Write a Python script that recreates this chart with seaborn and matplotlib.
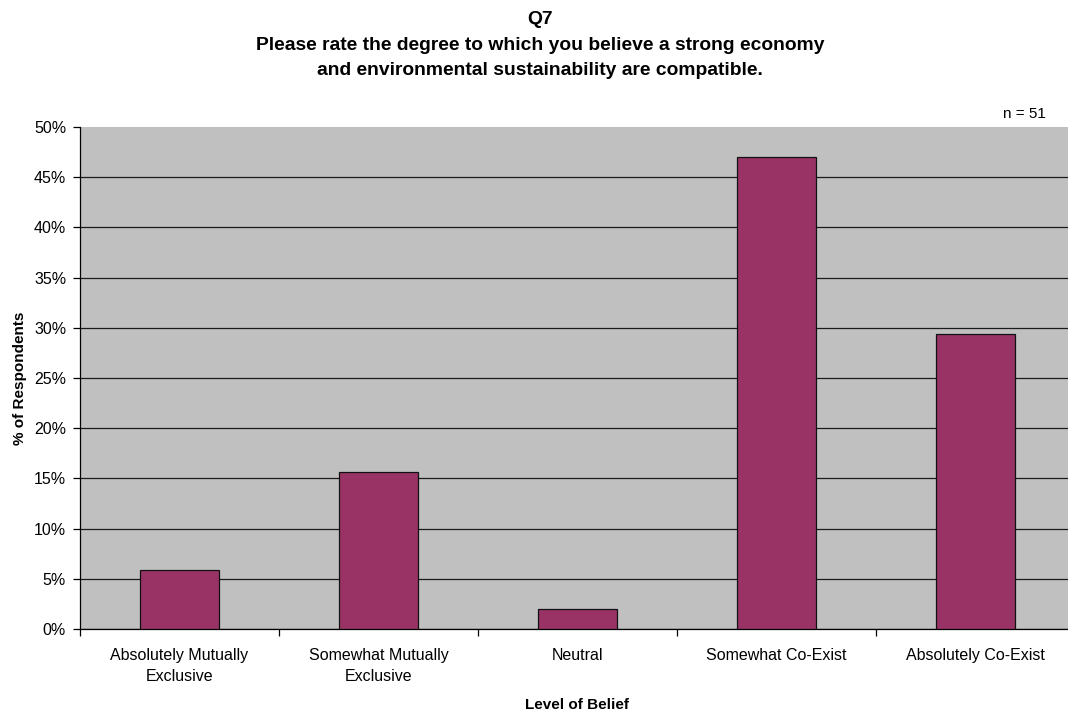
import matplotlib
matplotlib.use("Agg")
import matplotlib.pyplot as plt
import matplotlib.ticker as mticker
import seaborn as sns
import pandas as pd
import numpy as np

categories = ["Absolutely Mutually\nExclusive", "Somewhat Mutually\nExclusive",
              "Neutral", "Somewhat Co-Exist", "Absolutely Co-Exist"]
counts = [3, 8, 1, 24, 15]
n_total = 51
percent = [c / n_total * 100 for c in counts]
y_ticks = [0, 5, 10, 15, 20, 25, 30, 35, 40, 45, 50]

sns.set_theme(style="white")
plt.rcParams["font.family"] = ["Liberation Sans", "DejaVu Sans"]
plt.rcParams["text.color"] = "black"
plt.rcParams["axes.labelcolor"] = "black"
plt.rcParams["xtick.color"] = "black"
plt.rcParams["ytick.color"] = "black"

df = pd.DataFrame({"Level of Belief": categories, "pct": percent})

fig = plt.figure(figsize=(10.68, 7.12), dpi=100)
# the plot area runs slightly past the right edge of the canvas
ax = fig.add_axes([0.0749, 0.1166, 0.9316, 0.705])
ax.set_facecolor("#C0C0C0")

sns.barplot(data=df, x="Level of Belief", y="pct", color="#993366",
            width=0.397, saturation=1, edgecolor="#111111", linewidth=0.9, ax=ax,
            zorder=3)

ax.set_ylim(0, 50)
ax.set_xlim(-0.5, len(categories) - 0.5)
ax.set_yticks(y_ticks)
ax.yaxis.set_major_formatter(mticker.FuncFormatter(lambda v, p: f"{int(v)}%"))
ax.grid(axis="y", color="#1a1a1a", linewidth=0.9, zorder=1)
ax.grid(axis="x", visible=False)
# no rule along the top edge of the plot area
ax.yaxis.get_gridlines()[-1].set_visible(False)

# category boundaries carry the x tick marks
ax.set_xticks(np.arange(len(categories)))
ax.set_xticklabels(categories, fontsize=11.5, linespacing=1.45)
ax.set_xticks(np.arange(-0.5, len(categories)), minor=True)
ax.tick_params(axis="x", which="major", bottom=False, length=0, pad=14)
ax.tick_params(axis="x", which="minor", bottom=True, length=5, width=0.9,
               color="black", direction="out")
ax.tick_params(axis="y", left=True, length=5, width=0.9, color="black",
               direction="out", labelsize=11.5, pad=5)

for side in ["top", "right"]:
    ax.spines[side].set_visible(False)
for side in ["left", "bottom"]:
    ax.spines[side].set_color("black")
    ax.spines[side].set_linewidth(0.9)

ax.set_xlabel("Level of Belief", fontsize=11, fontweight="bold", labelpad=10)
ax.set_ylabel("% of Respondents", fontsize=11, fontweight="bold", labelpad=5)

fig.text(0.506, 0.985, "Q7\nPlease rate the degree to which you believe a strong economy\n"
         "and environmental sustainability are compatible.",
         ha="center", va="top", fontsize=13.9, fontweight="bold", linespacing=1.68)
fig.text(0.979, 0.84, f"n = {n_total}", ha="right", va="center", fontsize=11)

fig.savefig("out.png", dpi=100)
